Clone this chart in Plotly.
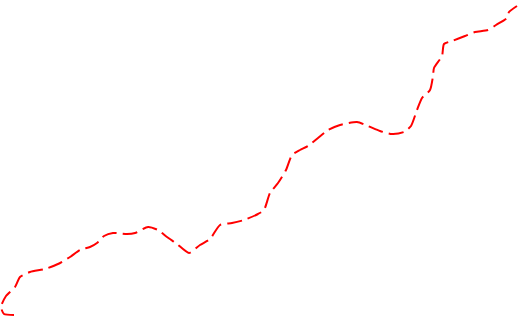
import plotly.graph_objects as go

# data (x position, value)
x_vals = [14, 4, 1, 6, 15, 20, 30, 45, 58, 70, 80, 90, 97, 104, 113, 127, 135, 148, 158, 167, 177,
          189, 200, 210, 220, 232, 244, 258, 264, 270, 278, 286, 292, 300, 308, 318, 328, 340, 357,
          368, 380, 392, 404, 411, 417, 422, 430, 433, 434, 442, 444, 452, 465, 475, 488, 496, 507,
          509, 517]
y_pix = [315, 314, 307, 296, 287, 277, 272, 269, 264, 257, 250, 247, 243, 236, 233, 234, 233, 227, 230, 237, 244,
         253, 245, 239, 225, 223, 220, 214, 210, 193, 183, 170, 155, 150, 146, 138, 130, 125, 122,
         126, 131, 134, 132, 126, 110, 98, 90, 76, 68, 56, 44, 41, 36, 32, 30, 25, 18,
         12, 6]
y_vals = [318 - v for v in y_pix]

fig = go.Figure()
fig.add_trace(go.Scatter(
    x=x_vals, y=y_vals, mode="lines",
    line=dict(color="#ff0000", width=2, dash="15px,6px", shape="spline", smoothing=0.6),
    hoverinfo="skip", showlegend=False,
))
fig.update_layout(
    width=524, height=318,
    margin=dict(l=0, r=0, t=0, b=0),
    paper_bgcolor="white", plot_bgcolor="white",
    xaxis=dict(range=[0, 524], visible=False, fixedrange=True),
    yaxis=dict(range=[0, 318], visible=False, fixedrange=True),
)
fig.write_html("out.html", config={"displayModeBar": False})
